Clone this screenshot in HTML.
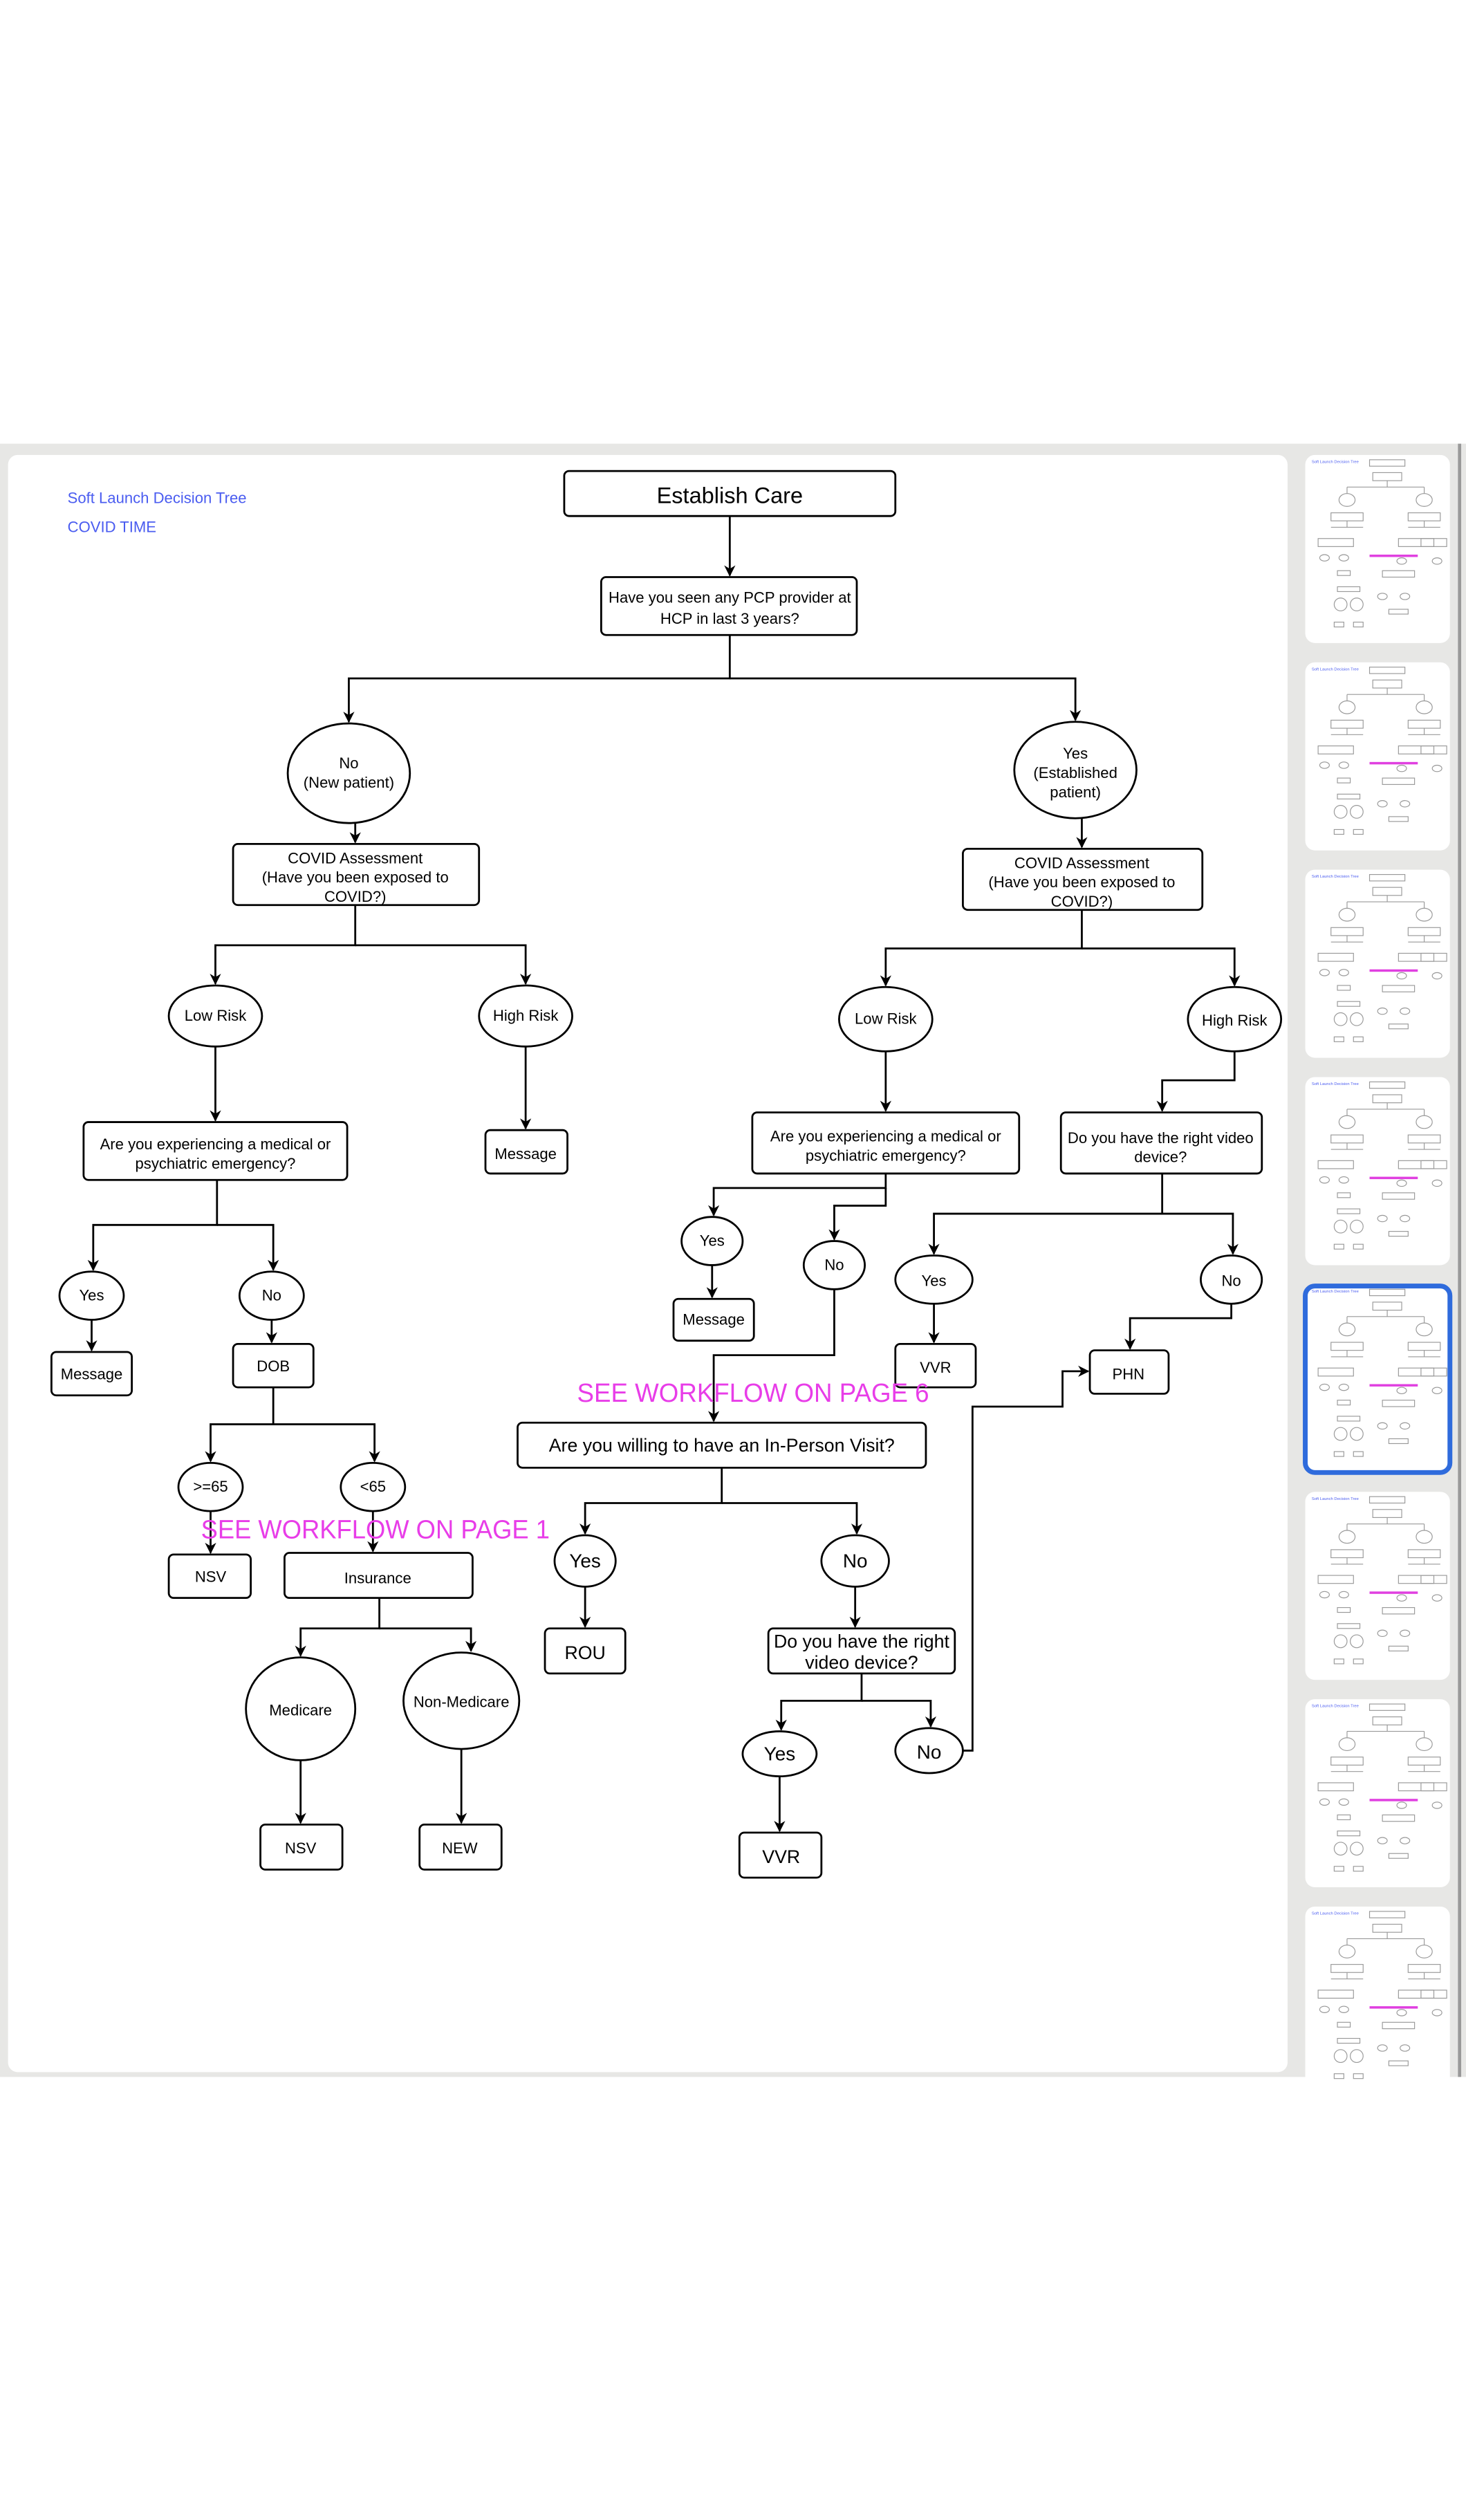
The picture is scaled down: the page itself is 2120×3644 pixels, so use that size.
<!DOCTYPE html>
<html><head><meta charset="utf-8"><style>
html,body{margin:0;padding:0;background:#fff;}
svg{display:block;}
text{font-family:"Liberation Sans",Arial,sans-serif;fill:#000;}
</style></head><body>
<svg width="2120" height="3644" viewBox="0 0 912 1567.6" xmlns="http://www.w3.org/2000/svg">
<defs>
<marker id="a" viewBox="0 0 10 10" refX="9" refY="5" markerWidth="7" markerHeight="7" orient="auto" markerUnits="userSpaceOnUse">
<path d="M0,0 L10,5 L0,10 L3,5 z" fill="#000"/></marker>
<g id="thumb">
<rect x="0" y="0" width="90" height="117" rx="6" fill="#fff"/>
<g stroke="#999" stroke-width="0.5" fill="none">
<rect x="40" y="3" width="22" height="4"/><rect x="42" y="11" width="18" height="5"/>
<path d="M51 16v4M26 20h48M26 20v4M74 20v4"/>
<ellipse cx="26" cy="28" rx="5" ry="4"/><ellipse cx="74" cy="28" rx="5" ry="4"/>
<rect x="16" y="36" width="20" height="5"/><rect x="64" y="36" width="20" height="5"/>
<path d="M26 41v4M16 45h20M74 41v4M64 45h20"/>
<rect x="8" y="52" width="22" height="5"/><rect x="58" y="52" width="22" height="5"/><rect x="72" y="52" width="16" height="5"/>
<ellipse cx="12" cy="64" rx="3" ry="2"/><ellipse cx="24" cy="64" rx="3" ry="2"/><ellipse cx="60" cy="66" rx="3" ry="2"/><ellipse cx="82" cy="66" rx="3" ry="2"/>
<rect x="20" y="72" width="8" height="3"/><rect x="48" y="72" width="20" height="4"/>
<rect x="20" y="82" width="14" height="3"/><ellipse cx="22" cy="93" rx="4" ry="4"/><ellipse cx="32" cy="93" rx="4" ry="4"/>
<rect x="18" y="104" width="6" height="3"/><rect x="30" y="104" width="6" height="3"/>
<ellipse cx="48" cy="88" rx="3" ry="2"/><ellipse cx="62" cy="88" rx="3" ry="2"/><rect x="52" y="96" width="12" height="3"/>
</g>
<text x="4" y="5" font-size="2.5" style="fill:#4a5cf0">Soft Launch Decision Tree</text>
<rect x="40" y="62" width="30" height="1.5" fill="#e040e0"/>
</g>
</defs>
<rect x="0" y="276" width="912" height="1016" fill="#e7e7e5"/>
<rect x="5" y="283" width="796" height="1006" rx="6" fill="#fff"/>
<rect x="907" y="276" width="2" height="1016" fill="#999"/>
<use href="#thumb" x="812" y="283"/>
<use href="#thumb" x="812" y="412"/>
<use href="#thumb" x="812" y="541"/>
<use href="#thumb" x="812" y="670"/>
<use href="#thumb" x="812" y="799"/>
<rect x="812" y="800" width="90" height="116" rx="6" fill="none" stroke="#2f6bdc" stroke-width="3"/>
<use href="#thumb" x="812" y="928"/>
<use href="#thumb" x="812" y="1057"/>
<use href="#thumb" x="812" y="1186"/>

<text x="42" y="313" font-size="9.5" style="fill:#4a5cf0">Soft Launch Decision Tree</text>
<text x="42" y="331" font-size="9.5" style="fill:#4a5cf0">COVID TIME</text>

<g fill="#fff" stroke="#000" stroke-width="1.2">
<rect x="351" y="293" width="206" height="28" rx="3"/>
<rect x="374" y="359" width="159" height="36" rx="3"/>
<ellipse cx="217" cy="481" rx="38" ry="31"/>
<ellipse cx="669" cy="479" rx="38" ry="30"/>
<rect x="145" y="525" width="153" height="38" rx="3"/>
<rect x="599" y="528" width="149" height="38" rx="3"/>
<ellipse cx="134" cy="632" rx="29" ry="19"/>
<ellipse cx="327" cy="632" rx="29" ry="19"/>
<ellipse cx="551" cy="634" rx="29" ry="20"/>
<ellipse cx="768" cy="634" rx="29" ry="20"/>
<rect x="52" y="698" width="164" height="36" rx="3"/>
<rect x="302" y="703" width="51" height="27" rx="3"/>
<rect x="468" y="692" width="166" height="38" rx="3"/>
<rect x="660" y="692" width="125" height="38" rx="3"/>
<ellipse cx="57" cy="806" rx="20" ry="15"/>
<ellipse cx="169" cy="806" rx="20" ry="15"/>
<rect x="32" y="841" width="50" height="27" rx="3"/>
<rect x="145" y="836" width="50" height="27" rx="3"/>
<ellipse cx="131" cy="925" rx="20" ry="15"/>
<ellipse cx="232" cy="925" rx="20" ry="15"/>
<rect x="105" y="967" width="51" height="27" rx="3"/>
<rect x="177" y="966" width="117" height="28" rx="3"/>
<ellipse cx="187" cy="1063" rx="34" ry="32"/>
<ellipse cx="287" cy="1058" rx="36" ry="30"/>
<rect x="162" y="1135" width="51" height="28" rx="3"/>
<rect x="261" y="1135" width="51" height="28" rx="3"/>
<ellipse cx="443" cy="772" rx="19" ry="15"/>
<ellipse cx="519" cy="787" rx="19" ry="15"/>
<rect x="419" y="808" width="50" height="26" rx="3"/>
<ellipse cx="581" cy="796" rx="24" ry="15"/>
<ellipse cx="766" cy="796" rx="19" ry="15"/>
<rect x="557" y="836" width="50" height="27" rx="3"/>
<rect x="678" y="840" width="49" height="27" rx="3"/>
<rect x="322" y="885" width="254" height="28" rx="3"/>
<ellipse cx="364" cy="971" rx="19" ry="16"/>
<ellipse cx="532" cy="971" rx="21" ry="16"/>
<rect x="339" y="1013" width="50" height="28" rx="3"/>
<rect x="478" y="1013" width="116" height="28" rx="3"/>
<ellipse cx="485" cy="1091" rx="23" ry="14"/>
<ellipse cx="578" cy="1089" rx="21" ry="14"/>
<rect x="460" y="1140" width="51" height="28" rx="3"/>
</g>

<g fill="none" stroke="#000" stroke-width="1.2">
<path d="M454 321V358" marker-end="url(#a)"/>
<path d="M454 395V422H217V449" marker-end="url(#a)"/>
<path d="M454 422H669V448" marker-end="url(#a)"/>
<path d="M221 512V524" marker-end="url(#a)"/>
<path d="M673 509V527" marker-end="url(#a)"/>
<path d="M221 563V588H134V612" marker-end="url(#a)"/>
<path d="M221 588H327V612" marker-end="url(#a)"/>
<path d="M673 566V590H551V613" marker-end="url(#a)"/>
<path d="M673 590H768V613" marker-end="url(#a)"/>
<path d="M134 651V697" marker-end="url(#a)"/>
<path d="M327 651V702" marker-end="url(#a)"/>
<path d="M551 654V691" marker-end="url(#a)"/>
<path d="M768 654V672H723V691" marker-end="url(#a)"/>
<path d="M135 734V762H58V790" marker-end="url(#a)"/>
<path d="M135 762H170V790" marker-end="url(#a)"/>
<path d="M57 821V840" marker-end="url(#a)"/>
<path d="M169 821V835" marker-end="url(#a)"/>
<path d="M170 863V886H131V909" marker-end="url(#a)"/>
<path d="M170 886H233V909" marker-end="url(#a)"/>
<path d="M131 940V966" marker-end="url(#a)"/>
<path d="M232 940V965" marker-end="url(#a)"/>
<path d="M236 994V1013H187V1030" marker-end="url(#a)"/>
<path d="M236 1013H293V1027" marker-end="url(#a)"/>
<path d="M187 1095V1134" marker-end="url(#a)"/>
<path d="M287 1088V1134" marker-end="url(#a)"/>
<path d="M551 730V739H444V756" marker-end="url(#a)"/>
<path d="M551 739V750H519V771" marker-end="url(#a)"/>
<path d="M443 787V807" marker-end="url(#a)"/>
<path d="M519 802V843H444V884" marker-end="url(#a)"/>
<path d="M723 730V755H581V780" marker-end="url(#a)"/>
<path d="M723 755H767V780" marker-end="url(#a)"/>
<path d="M581 811V835" marker-end="url(#a)"/>
<path d="M766 811V820H703V839" marker-end="url(#a)"/>
<path d="M449 913V935H364V954" marker-end="url(#a)"/>
<path d="M449 935H533V954" marker-end="url(#a)"/>
<path d="M364 987V1012" marker-end="url(#a)"/>
<path d="M532 987V1012" marker-end="url(#a)"/>
<path d="M536 1041V1058H486V1076" marker-end="url(#a)"/>
<path d="M536 1058H579V1074" marker-end="url(#a)"/>
<path d="M485 1105V1139" marker-end="url(#a)"/>
<path d="M599 1089H605V875H661V853H677" marker-end="url(#a)"/>
</g>

<g text-anchor="middle" font-size="9.5">
<text x="454" y="313" font-size="14">Establish Care</text>
<text x="454" y="375">Have you seen any PCP provider at</text>
<text x="454" y="388">HCP in last 3 years?</text>
<text x="217" y="478">No</text>
<text x="217" y="490">(New patient)</text>
<text x="669" y="472">Yes</text>
<text x="669" y="484">(Established</text>
<text x="669" y="496">patient)</text>
<text x="221" y="537">COVID Assessment</text>
<text x="221" y="549">(Have you been exposed to</text>
<text x="221" y="561">COVID?)</text>
<text x="673" y="540">COVID Assessment</text>
<text x="673" y="552">(Have you been exposed to</text>
<text x="673" y="564">COVID?)</text>
<text x="134" y="635">Low Risk</text>
<text x="327" y="635">High Risk</text>
<text x="551" y="637">Low Risk</text>
<text x="768" y="638">High Risk</text>
<text x="134" y="715">Are you experiencing a medical or</text>
<text x="134" y="727">psychiatric emergency?</text>
<text x="327" y="721">Message</text>
<text x="551" y="710">Are you experiencing a medical or</text>
<text x="551" y="722">psychiatric emergency?</text>
<text x="722" y="711">Do you have the right video</text>
<text x="722" y="723">device?</text>
<text x="57" y="809">Yes</text>
<text x="169" y="809">No</text>
<text x="57" y="858">Message</text>
<text x="170" y="853">DOB</text>
<text x="131" y="928">&gt;=65</text>
<text x="232" y="928">&lt;65</text>
<text x="131" y="984">NSV</text>
<text x="235" y="985">Insurance</text>
<text x="187" y="1067">Medicare</text>
<text x="287" y="1062">Non-Medicare</text>
<text x="187" y="1153">NSV</text>
<text x="286" y="1153">NEW</text>
<text x="443" y="775">Yes</text>
<text x="519" y="790">No</text>
<text x="444" y="824">Message</text>
<text x="581" y="800">Yes</text>
<text x="766" y="800">No</text>
<text x="582" y="854">VVR</text>
<text x="702" y="858">PHN</text>
<text x="449" y="903" font-size="11.5">Are you willing to have an In-Person Visit?</text>
<text x="364" y="975" font-size="12">Yes</text>
<text x="532" y="975" font-size="12">No</text>
<text x="364" y="1032" font-size="11.5">ROU</text>
<text x="536" y="1025" font-size="11.5">Do you have the right</text>
<text x="536" y="1038" font-size="11.5">video device?</text>
<text x="485" y="1095" font-size="12">Yes</text>
<text x="578" y="1094" font-size="12">No</text>
<text x="486" y="1159" font-size="11.5">VVR</text>
</g>
<text x="359" y="872" font-size="16.5" textLength="219" lengthAdjust="spacingAndGlyphs" style="fill:#e83de8">SEE WORKFLOW ON PAGE 6</text>
<text x="125" y="957" font-size="16.5" textLength="217" lengthAdjust="spacingAndGlyphs" style="fill:#e83de8">SEE WORKFLOW ON PAGE 1</text>
</svg>
</body></html>
